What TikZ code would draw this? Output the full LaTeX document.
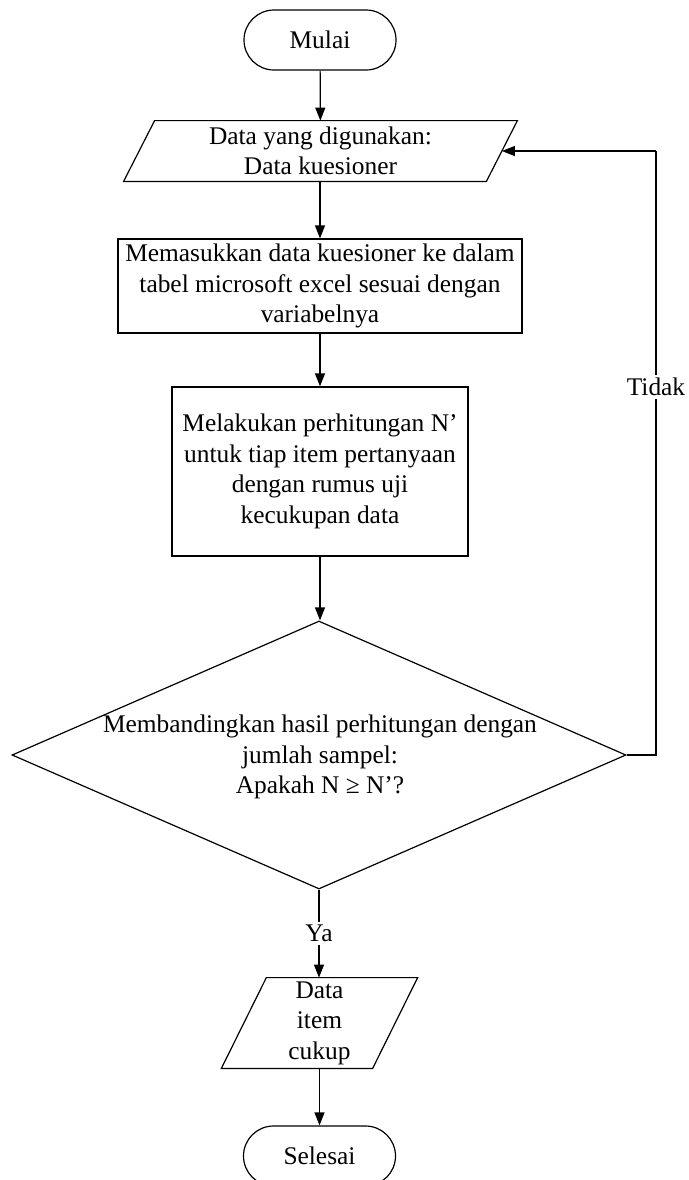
\documentclass[tikz,border=0pt]{standalone}
\usepackage{fontspec}
\setmainfont{Liberation Serif}
\usetikzlibrary{shapes.geometric,arrows.meta,calc}
\begin{document}
\begin{tikzpicture}[x=0.5pt,y=-0.5pt,
  every node/.style={font=\fontsize{12.7pt}{15.25pt}\selectfont, inner sep=0pt, align=center},
  line/.style={draw=black, line width=0.6pt},
  flow/.style={line, -{Triangle[length=6.5pt,width=5pt]}},
  terminal/.style={draw, line width=0.6pt, rectangle, rounded corners=15pt, minimum width=76pt, minimum height=30pt},
  procbox/.style={draw, line width=0.6pt, rectangle},
  iobox/.style={rectangle},
  decision/.style={draw, line width=0.6pt, diamond, minimum width=307pt, minimum height=134pt},
  tag/.style={fill=white, inner sep=1.5pt}]
\useasboundingbox (0,0) rectangle (689,1180);

% start / end
\node[terminal] (start) at (320,40) {Mulai};
\node[terminal] (stop) at (319.5,1156) {Selesai};

% input: questionnaire data
\node[iobox, minimum width=181pt, minimum height=30pt] (input) at (320.5,151)
  {Data yang digunakan:\\Data kuesioner};
\draw[line] ($(input.north west)+(15.5,0)$) -- ($(input.north east)+(15.5,0)$)
  -- ($(input.south east)+(-15.5,0)$) -- ($(input.south west)+(-15.5,0)$) -- cycle;

% processing steps
\node[procbox, minimum width=202pt, minimum height=47pt] (enter) at (320,286)
  {Memasukkan data kuesioner ke dalam\\tabel microsoft excel sesuai dengan\\variabelnya};
\node[procbox, minimum width=148pt, minimum height=84.5pt] (calc) at (320,471.5)
  {Melakukan perhitungan N’\\untuk tiap item pertanyaan\\dengan rumus uji\\kecukupan data};

% decision
\node[decision] (check) at (319,755) {};
\node (checktext) at (320,757)
  {Membandingkan hasil perhitungan dengan\\jumlah sampel:\\Apakah N ≥ N’?};

% output: sufficient data
\node[iobox, minimum width=75.25pt, minimum height=45pt] (output) at (319.5,1023)
  {Data\\item\\cukup};
\draw[line] ($(output.north west)+(22.5,0)$) -- ($(output.north east)+(22.5,0)$)
  -- ($(output.south east)+(-22.5,0)$) -- ($(output.south west)+(-22.5,0)$) -- cycle;

% connectors
\draw[flow] (start) -- (input);
\draw[flow] (input.south -| enter.north) -- (enter);
\draw[flow] (enter) -- (calc);
\draw[flow] (calc) -- (check.north -| calc.south);
\draw[flow] (check.south) -- node[tag] {Ya} (output.north -| check.south);
\draw[flow] (output.south -| stop.north) -- (stop);

% loop back when the sample is too small
\coordinate (loopdown) at (656,755);
\coordinate (loopup) at (656,151);
\draw[line] (check.east) -- (loopdown) -- node[tag, pos=0.61] {Tidak} (loopup);
\draw[flow] (loopup) -- (input.east);
\end{tikzpicture}
\end{document}
